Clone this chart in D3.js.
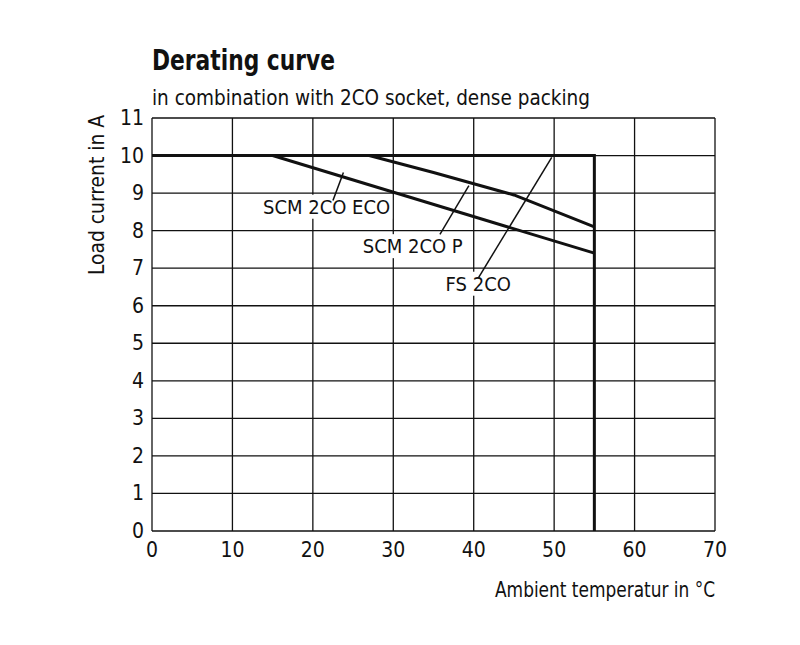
<!DOCTYPE html>
<html><head><meta charset="utf-8">
<script src="https://cdn.jsdelivr.net/npm/d3@7"></script>
<style>body{margin:0;background:#fff}text{font-family:"DejaVu Sans Condensed","DejaVu Sans",sans-serif;font-stretch:condensed;fill:#111}</style>
</head><body><svg id="c" width="800" height="645"></svg>
<script>
const xTicks=[0,10,20,30,40,50,60,70];
const yTicks=[0,1,2,3,4,5,6,7,8,9,10,11];
const fs2co=[[0,10],[55,10],[55,0]];
const scmP=[[27,10],[35,9.55],[45,8.95],[55,8.1]];
const scmEco=[[15,10],[55,7.4]];
const labels=[
 {t:"SCM 2CO ECO",x:13.8,y:8.45,lx1:22.5,ly1:8.8,lx2:23.8,ly2:9.55},
 {t:"SCM 2CO P",x:26.2,y:7.4,lx1:35.8,ly1:7.9,lx2:39.4,ly2:9.2},
 {t:"FS 2CO",x:36.5,y:6.4,lx1:40.6,ly1:6.75,lx2:49.7,ly2:9.95}
];
const svg=d3.select("#c");
const x=d3.scaleLinear().domain([0,70]).range([152,715]);
const y=d3.scaleLinear().domain([0,11]).range([531,118]);
const fit=(sel,w)=>{const b=sel.node().getBBox();if(b.width>w)sel.attr("textLength",w).attr("lengthAdjust","spacingAndGlyphs");};
fit(svg.append("text").attr("x",152).attr("y",70).attr("font-size",28).attr("font-weight","bold").text("Derating curve"),183);
fit(svg.append("text").attr("x",152).attr("y",105).attr("font-size",22).text("in combination with 2CO socket, dense packing"),438);
const g=svg.append("g");
xTicks.forEach(t=>g.append("line").attr("x1",x(t)).attr("x2",x(t)).attr("y1",y(0)).attr("y2",y(11)).attr("stroke","#111").attr("stroke-width",1.3));
yTicks.forEach(t=>g.append("line").attr("x1",x(0)).attr("x2",x(70)).attr("y1",y(t)).attr("y2",y(t)).attr("stroke","#111").attr("stroke-width",1.3));
xTicks.forEach(t=>g.append("text").attr("x",x(t)).attr("y",557).attr("text-anchor","middle").attr("font-size",21).text(t));
yTicks.forEach(t=>g.append("text").attr("x",x(0)-8).attr("y",y(t)+7).attr("text-anchor","end").attr("font-size",21).text(t));
fit(svg.append("text").attr("transform","translate(104,195) rotate(-90)").attr("text-anchor","middle").attr("font-size",21).text("Load  current in A"),160);
fit(svg.append("text").attr("x",495).attr("y",597).attr("font-size",21).text("Ambient temperatur in °C"),220);
const line=d3.line().x(d=>x(d[0])).y(d=>y(d[1]));
[fs2co,scmP,scmEco].forEach(d=>svg.append("path").attr("d",line(d)).attr("fill","none").attr("stroke","#111").attr("stroke-width",3));
labels.forEach(l=>{
 const r=svg.append("rect").attr("fill","#fff");
 const t=svg.append("text").attr("x",x(l.x)).attr("y",y(l.y)).attr("font-size",20).text(l.t);
 const b=t.node().getBBox();
 r.attr("x",b.x-2).attr("y",b.y).attr("width",b.width+4).attr("height",b.height);
 svg.append("line").attr("x1",x(l.lx1)).attr("y1",y(l.ly1)).attr("x2",x(l.lx2)).attr("y2",y(l.ly2)).attr("stroke","#111").attr("stroke-width",1.5);
});
</script></body></html>
